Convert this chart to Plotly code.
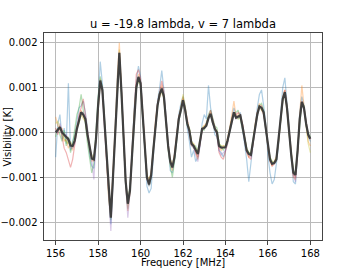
import numpy as np
import plotly.graph_objects as go

# Frequency channels [MHz]
freq = [round(156.0 + 0.1 * i, 1) for i in range(121)]

# Values in units of 1e-5 K
mean_vis = [0, 5, 12, 0, -6, -10, -15, -29, -30, -18,
            8, 30, 45, 40, 30, -5, -35, -58, -60, -15,
            60, 116, 95, 20, -60, -140, -190, -100, 0, 110,
            178, 90, -20, -110, -159, -130, -50, 40, 100, 124,
            110, 40, -40, -100, -116, -95, -40, 20, 60, 85,
            98, 80, 20, -30, -65, -78, -55, -10, 30, 50,
            72, 50, 20, 4, -25, -30, -40, -48, -20, 8,
            10, 15, 32, 42, 23, 8, 0, -30, -34, -34,
            -33, -18, 5, 30, 45, 33, 36, 38, 15, -12,
            -40, -48, -50, -20, 15, 40, 58, 55, 45, 10,
            -30, -60, -70, -68, -60, -20, 30, 75, 90, 55,
            0, -50, -90, -95, -40, 30, 68, 55, 20, -5,
            -14]

vis_blue = [-55, 20, 40, -15, 10, -25, 110, -40, -20, -5,
            25, 55, 60, 70, 45, 10, -50, -75, -80, -30,
            70, 158, 110, 30, -55, -150, -205, -110, 15, 120,
            170, 100, -10, -120, -170, -125, -40, 55, 115, 148,
            125, 50, -50, -120, -135, -125, -55, 10, 70, 100,
            138, 95, 35, -40, -85, -90, -60, -15, 40, 65,
            80, 60, 10, -20, -55, -40, -65, -55, -30, 20,
            40, 30, 105, 55, 30, -5, -10, -40, -45, -55,
            -40, -25, 10, 35, 55, 40, 30, 45, 10, -20,
            -60, -110, -70, -30, 20, 55, 85, 95, 60, 20,
            -50, -90, -115, -105, -70, -30, 40, 100, 122, 70,
            10, -60, -110, -115, -50, 45, 80, 60, 25, -10,
            -20]

vis_orange = [35, 15, 5, 10, -20, -15, -35, -25, -40, -10,
              15, 25, 50, 35, 25, -10, -30, -65, -55, -20,
              55, 120, 90, 25, -65, -150, -185, -95, 10, 120,
              200, 95, -25, -120, -175, -135, -45, 35, 105, 130,
              112, 45, -35, -105, -110, -90, -45, 25, 65, 80,
              105, 75, 25, -35, -70, -85, -50, -5, 35, 55,
              80, 45, 25, 0, -30, -25, -45, -60, -25, 10,
              15, 20, 30, 45, 25, 5, 5, -35, -40, -30,
              -35, -15, 10, 40, 70, 35, 40, 35, 20, -15,
              -45, -55, -50, -25, 20, 45, 65, 50, 40, 15,
              -35, -65, -75, -65, -55, -25, 35, 80, 95, 50,
              5, -55, -100, -105, -45, 40, 105, 60, 25, -20,
              -30]

vis_green = [-10, 10, -5, -20, 5, -30, -10, -45, -25, 10,
             40, 55, 85, 50, 20, -25, -60, -90, -70, 5,
             80, 125, 100, 30, -50, -145, -195, -105, -10, 100,
             170, 80, -30, -115, -150, -120, -60, 30, 95, 118,
             105, 30, -45, -95, -120, -100, -35, 15, 55, 90,
             95, 85, 10, -40, -75, -100, -65, -20, 25, 45,
             65, 55, 15, 10, -20, -35, -30, -45, -15, 5,
             5, 25, 40, 50, 30, 15, 10, -25, -30, -40,
             -30, -20, 0, 25, 40, 45, 50, 30, 5, -10,
             -35, -45, -45, -15, 10, 35, 60, 65, 50, 5,
             -25, -55, -65, -70, -65, -15, 25, 70, 85, 60,
             -5, -45, -85, -90, -35, 25, 65, 60, 15, 0,
             -10]

vis_red = [10, -5, 15, -10, -35, -45, -65, -78, -60, -30,
           0, 40, 55, 75, 40, 0, -30, -55, -65, -10,
           65, 110, 100, 15, -65, -135, -185, -95, 5, 105,
           175, 95, -15, -105, -155, -125, -40, 50, 130, 140,
           120, 45, -35, -95, -110, -90, -35, 25, 65, 90,
           115, 90, 30, -25, -60, -75, -50, -5, 35, 50,
           75, 55, 25, 5, -20, -35, -45, -55, -25, 5,
           10, 20, 35, 50, 30, 10, -5, -45, -55, -60,
           -45, -25, 5, 30, 45, 40, 45, 40, 20, -10,
           -40, -55, -60, -25, 15, 45, 55, 60, 45, 10,
           -30, -60, -75, -70, -60, -20, 30, 75, 95, 60,
           5, -50, -95, -100, -45, 30, 70, 55, 20, -5,
           -15]

vis_purple = [5, 0, 20, 5, -10, -5, -20, -35, -35, -25,
              5, 35, 40, 45, 35, -10, -40, -60, -105, -20,
              55, 115, 90, 15, -65, -150, -220, -110, -5, 105,
              180, 85, -25, -115, -190, -135, -55, 35, 100, 125,
              110, 35, -45, -105, -120, -100, -45, 15, 60, 85,
              100, 80, 20, -35, -70, -80, -55, -15, 25, 50,
              70, 50, 20, 0, -30, -35, -50, -65, -30, 5,
              10, 15, 30, 40, 20, 5, -5, -40, -50, -45,
              -40, -20, 0, 25, 40, 30, 35, 35, 10, -15,
              -45, -50, -55, -25, 10, 35, 55, 55, 40, 5,
              -35, -65, -70, -70, -65, -25, 25, 70, 90, 55,
              0, -55, -95, -110, -45, 25, 65, 50, 15, -10,
              -15]

vis_olive = [20, 25, 10, -5, -15, -20, -25, -20, -30, -15,
             10, 20, 40, 30, 25, -5, -40, -50, -60, -15,
             55, 110, 95, 25, -55, -130, -180, -100, 5, 115,
             185, 90, -20, -105, -160, -130, -50, 45, 100, 115,
             105, 40, -35, -95, -105, -90, -40, 20, 60, 80,
             90, 75, 20, -30, -60, -70, -50, -10, 30, 55,
             85, 60, 25, 10, -20, -25, -35, -40, -15, 10,
             15, 15, 30, 40, 20, 10, 0, -25, -30, -30,
             -30, -15, 5, 30, 40, 35, 30, 35, 15, -10,
             -35, -45, -45, -20, 15, 40, 55, 50, 45, 10,
             -30, -55, -65, -65, -55, -20, 30, 70, 85, 55,
             0, -45, -85, -90, -40, 30, 60, 55, 15, -25,
             -45]

series = [
    (vis_blue, "#1f77b4"),
    (vis_orange, "#ff7f0e"),
    (vis_green, "#2ca02c"),
    (vis_red, "#d62728"),
    (vis_purple, "#9467bd"),
    (vis_olive, "#bcbd22"),
]

UNIT = 1e-5

fig = go.Figure()
for vals, col in series:
    fig.add_trace(go.Scatter(
        x=freq, y=np.array(vals) * UNIT, mode="lines",
        line=dict(color=col, width=1.2), opacity=0.35,
        showlegend=False, hoverinfo="skip"))

fig.add_trace(go.Scatter(
    x=freq, y=np.array(mean_vis) * UNIT, mode="lines",
    line=dict(color="#404040", width=2.2), showlegend=False))

xticks = [156, 158, 160, 162, 164, 166, 168]
yticks = [-0.002, -0.001, 0.0, 0.001, 0.002]
yticktext = ["\u22120.002", "\u22120.001", "0.000", "0.001", "0.002"]

W, H = 358, 275
L, R, T, B = 44, 36, 33, 35
PW, PH = W - L - R, H - T - B

fig.update_layout(
    width=W, height=H,
    margin=dict(l=L, r=R, t=T, b=B, autoexpand=False),
    paper_bgcolor="white", plot_bgcolor="white",
    font=dict(family="DejaVu Sans", size=10, color="black"),
    title=dict(text="u = -19.8 lambda, v = 7 lambda",
               x=(L + PW / 2) / W, xanchor="center",
               y=1 - 24 / H, yanchor="middle", font=dict(size=11.5)),
    annotations=[
        dict(text="Frequency [MHz]", xref="paper", yref="paper",
             x=0.5, y=-(262 - (H - B)) / PH, xanchor="center",
             yanchor="middle", showarrow=False, font=dict(size=10)),
        dict(text="Visibility [K]", xref="paper", yref="paper",
             x=0.0, y=0.5, xanchor="center", xshift=-37,
             yanchor="middle", textangle=-90, showarrow=False,
             font=dict(size=10)),
    ],
)
fig.update_xaxes(
    range=[155.45, 168.55], tickvals=xticks, ticktext=[str(t) for t in xticks],
    showgrid=True, gridcolor="#bababa", gridwidth=1,
    showline=True, linecolor="#444", linewidth=1, mirror=True,
    ticks="outside", ticklen=3.5, tickcolor="#444",
    zeroline=False, automargin=False,
)
fig.update_yaxes(
    range=[-0.0024, 0.00222], tickvals=yticks, ticktext=yticktext,
    showgrid=True, gridcolor="#bababa", gridwidth=1,
    showline=True, linecolor="#444", linewidth=1, mirror=True,
    ticks="outside", ticklen=3.5, tickcolor="#444",
    zeroline=False, automargin=False,
)

fig.write_html("out.html", config={"displayModeBar": False},
               post_script="document.body.style.margin='0';")
